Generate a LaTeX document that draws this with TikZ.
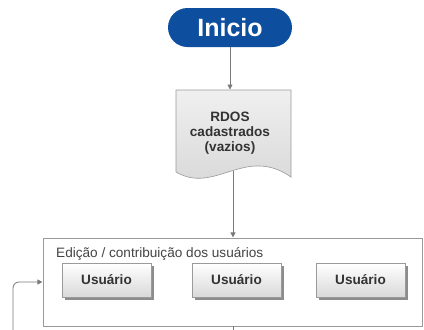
\documentclass[tikz,border=0pt]{standalone}
\usepackage{fontspec}
\setmainfont{Liberation Sans}
\usetikzlibrary{arrows.meta,shadows,calc}
\definecolor{pillblue}{HTML}{0D4F9E}
\definecolor{linegray}{HTML}{7A7A7A}
\definecolor{boxborder}{HTML}{9A9A9A}
\definecolor{txtdark}{HTML}{333333}
\definecolor{txttitle}{HTML}{444444}
\tikzset{
  conn/.style={draw=linegray, line width=0.8pt, -{Triangle[length=5pt,width=5pt]}, shorten >=0.3pt},
  pill/.style={rectangle, rounded corners=19.5pt, fill=pillblue, text=white,
    minimum width=124pt, minimum height=39pt, inner sep=0pt,
    font=\fontsize{25}{30}\selectfont\bfseries},
  userbox/.style={rectangle, draw=boxborder, line width=0.6pt,
    top color=white, bottom color=black!15,
    minimum width=89pt, minimum height=34pt, inner sep=0pt,
    text=txtdark, font=\fontsize{13.6}{15}\selectfont\bfseries,
    drop shadow={shadow xshift=3pt, shadow yshift=-3pt, fill=black!45, opacity=1}},
  contbox/.style={rectangle, draw=boxborder, line width=0.6pt, fill=white,
    minimum width=379pt, minimum height=88pt, inner sep=0pt},
  docbox/.style={rectangle, minimum width=115pt, minimum height=87pt, inner sep=0pt},
}
\begin{document}
\begin{tikzpicture}[x=1pt,y=-1pt]
\useasboundingbox (0,0) rectangle (424,330);
\fill[white] (0,0) rectangle (424,330);
% start
\node[pill] (inicio) at (230,27.5) {Inicio};
% document shape
\node[docbox] (doc) at (233.5,133.5) {};
\path[draw=boxborder, line width=0.6pt, top color=black!6, bottom color=black!16]
  (176,172) -- (176,90) -- (291,90) -- (291,177)
  .. controls (245,145) and (215,195) .. (176,172) -- cycle;
\node[align=center, text=txtdark, font=\fontsize{13.6}{15}\selectfont\bfseries] (rdos) at (230,133)
  {RDOS\\cadastrados\\(vazios)};
\coordinate (docbot) at (233,171);
% container
\node[contbox] (cont) at (232.5,282) {};
\node[anchor=base west, text=txttitle, font=\fontsize{13.6}{15}\selectfont, inner sep=0pt] (title) at (56,257)
  {Edição / contribuição dos usuários};
\node[userbox] (u1) at (106.5,280) {Usuário};
\node[userbox] (u2) at (236.5,280) {Usuário};
\node[userbox] (u3) at (360.5,280) {Usuário};
% connectors
\draw[conn] (inicio.south) -- (inicio.south |- doc.north);
\draw[conn] (docbot) -- (docbot |- cont.north);
\coordinate (loopstart) at (13,331);
\draw[conn, rounded corners=6pt] (loopstart) |- (cont.west);
\coordinate (contout) at (233,331);
\draw[draw=linegray, line width=0.8pt] (cont.south -| contout) -- (contout);
\end{tikzpicture}
\end{document}
